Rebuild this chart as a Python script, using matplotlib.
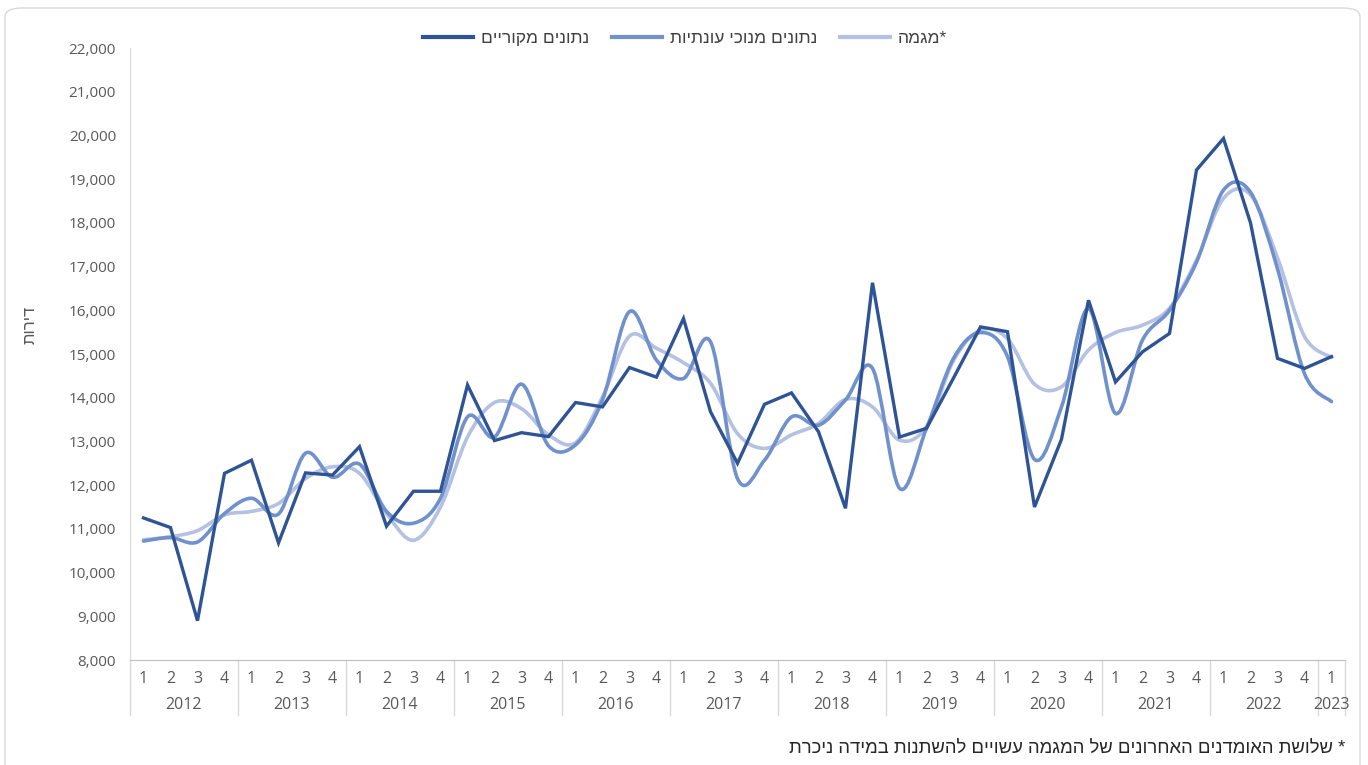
import numpy as np
import matplotlib
matplotlib.use("Agg")
import matplotlib.pyplot as plt
from matplotlib.path import Path
from matplotlib.patches import PathPatch, FancyBboxPatch
from matplotlib.lines import Line2D
import matplotlib.transforms as mtransforms

# quarterly housing starts (dwellings), 2012Q1 - 2023Q1
years = [2012, 2013, 2014, 2015, 2016, 2017, 2018, 2019, 2020, 2021, 2022, 2023]
quarters = ["1", "2", "3", "4"] * 11 + ["1"]

original = [11250, 11030, 8900, 12270,
            12570, 10680, 12280, 12230,
            12880, 11060, 11860, 11860,
            14290, 13020, 13200, 13110,
            13890, 13790, 14690, 14470,
            15810, 13680, 12500, 13850,
            14110, 13220, 11470, 16630,
            13100, 13300, 14450, 15620,
            15510, 11500, 13050, 16230,
            14360, 15050, 15470, 19210,
            19930, 18000, 14900, 14670,
            14940]

seasonal = [10720, 10800, 10700, 11350,
            11700, 11340, 12730, 12180,
            12480, 11400, 11130, 11700,
            13560, 13100, 14310, 12900,
            12920, 13950, 15970, 14860,
            14440, 15280, 12150, 12570,
            13560, 13370, 13950, 14670,
            11930, 13300, 14900, 15490,
            14940, 12590, 13790, 16040,
            13640, 15320, 16000, 17100,
            18750, 18700, 16950, 14550,
            13910]

trend = [10750, 10820, 10960, 11320,
         11400, 11580, 12150, 12420,
         12270, 11350, 10740, 11500,
         13100, 13890, 13750, 13150,
         12970, 14020, 15410, 15130,
         14800, 14330, 13180, 12840,
         13150, 13410, 13960, 13790,
         13030, 13340, 14850, 15550,
         15350, 14310, 14250, 15090,
         15490, 15660, 16050, 17150,
         18560, 18640, 17200, 15400,
         14920]

series_names = ["נתונים מקוריים", "נתונים מנוכי עונתיות", "*מגמה"]
colors = ["#2F5496", "#7191CC", "#B4C1E2"]
footnote = "* שלושת האומדנים האחרונים של המגמה עשויים להשתנות במידה ניכרת"
ylabel = "דירות"

HEB = ["Liberation Sans", "DejaVu Sans"]
NUM = ["Open Sans", "DejaVu Sans"]
GREY = "#595959"


def rtl(s):
    # matplotlib lays text out left-to-right, so flip Hebrew strings
    return s[::-1]


def smooth_path(xs, ys):
    # Catmull-Rom style bezier segments, like a spreadsheet "smoothed line"
    pts = np.column_stack([xs, ys]).astype(float)
    ext = np.vstack([pts[0], pts, pts[-1]])
    verts = [pts[0]]
    codes = [Path.MOVETO]
    for i in range(len(pts) - 1):
        p0, p1, p2, p3 = ext[i], ext[i + 1], ext[i + 2], ext[i + 3]
        c1 = p1 + (p2 - p0) / 6.0
        c2 = p2 - (p3 - p1) / 6.0
        verts += [c1, c2, p2]
        codes += [Path.CURVE4] * 3
    return Path(verts, codes)


fig = plt.figure(figsize=(13.68, 7.65), dpi=100)
fig.patch.set_facecolor("white")

# rounded frame around the whole chart
frame = FancyBboxPatch((5 / 1368, -0.05), 1355 / 1368, 1 - 8 / 765 + 0.05,
                       boxstyle="round,pad=0,rounding_size=0.012",
                       transform=fig.transFigure, facecolor="none",
                       edgecolor="#D9D9D9", lw=1.0)
fig.patches.append(frame)

ax = fig.add_axes([130 / 1368, 1 - 660 / 765, 1215 / 1368, 612 / 765])
x = np.arange(len(quarters))

ax.plot(x, original, color=colors[0], lw=2.4, solid_joinstyle="miter", zorder=3)
ax.add_patch(PathPatch(smooth_path(x, seasonal), fill=False, edgecolor=colors[1],
                       lw=2.6, capstyle="round", zorder=2))
ax.add_patch(PathPatch(smooth_path(x, trend), fill=False, edgecolor=colors[2],
                       lw=2.6, capstyle="round", zorder=1))

ax.set_xlim(-0.5, len(quarters) - 0.5)
ax.set_ylim(8000, 22000)
ax.set_yticks(np.arange(8000, 22001, 1000))
ax.set_yticklabels([f"{v:,}" for v in range(8000, 22001, 1000)],
                   fontfamily=NUM, fontsize=11, color=GREY)
ax.tick_params(axis="y", length=0, pad=10)

ax.set_xticks(x)
ax.set_xticklabels(quarters, fontfamily=NUM, fontsize=11.5, color=GREY)
ax.tick_params(axis="x", length=0, pad=8)

for side in ["top", "right"]:
    ax.spines[side].set_visible(False)
ax.spines["left"].set_color("#D9D9D9")
ax.spines["bottom"].set_color("#BFBFBF")

# year row and group separators under the quarter numbers
trans = mtransforms.blended_transform_factory(ax.transData, ax.transAxes)
bounds = [-0.5 + 4 * i for i in range(12)] + [len(quarters) - 0.5]
for b in bounds:
    ax.add_line(Line2D([b, b], [0, -55 / 612], transform=trans, color="#D9D9D9",
                       lw=1.0, clip_on=False))
for i, yr in enumerate(years):
    lo = bounds[i]
    hi = bounds[i + 1]
    ax.text((lo + hi) / 2, -45 / 612, str(yr), transform=trans, ha="center",
            va="center", fontfamily=NUM, fontsize=11.5, color=GREY)

fig.text(30 / 1368, 1 - 325 / 765, rtl(ylabel), rotation=90, ha="center",
         va="center", fontfamily=HEB, fontsize=12, color=GREY)

handles = [Line2D([], [], color=c, lw=3) for c in colors]
fig.legend(handles, [rtl(n) for n in series_names], loc="center",
           bbox_to_anchor=(685 / 1368, 1 - 38 / 765), ncol=3, frameon=False,
           handlelength=2.9, columnspacing=1.3, handletextpad=0.45,
           prop={"family": HEB, "size": 12.5}, labelcolor="#404040")

fig.text(1345 / 1368, 1 - 748 / 765, rtl(footnote), ha="right", va="center",
         fontfamily=HEB, fontsize=13.3, color="#262626")

fig.savefig("out.png", dpi=100)
